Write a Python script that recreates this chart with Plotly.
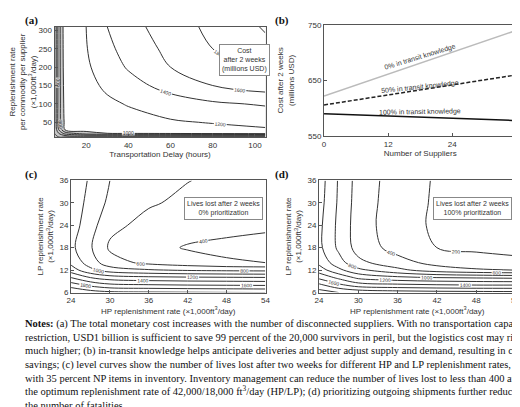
import plotly.graph_objects as go

# ---- data ----
# (a) cost after 2 weeks (millions USD)
delay_hours = [5, 7, 10, 20, 30, 40, 60, 80, 105]
repl_rate = [10, 20, 30, 50, 100, 150, 200, 250, 310]
cost_grid = [
    [200, 200, 200, 200, 200, 200, 200, 200, 200],
    [200, 400, 700, 950, 1000, 1020, 1040, 1060, 1080],
    [200, 600, 1020, 1050, 1080, 1100, 1120, 1150, 1180],
    [200, 700, 1050, 1100, 1120, 1140, 1180, 1210, 1250],
    [200, 700, 1080, 1120, 1170, 1210, 1300, 1370, 1420],
    [200, 700, 1100, 1150, 1230, 1320, 1480, 1600, 1700],
    [200, 700, 1120, 1170, 1300, 1420, 1600, 1720, 1850],
    [200, 700, 1130, 1190, 1350, 1480, 1650, 1800, 1950],
    [200, 700, 1140, 1200, 1400, 1530, 1700, 1850, 2020],
]

# (b) cost vs number of suppliers
suppliers = [0, 12, 24, 36]
cost_0pct = [622, 661, 700, 740]
cost_50pct = [606, 624, 642, 660]
cost_100pct = [590, 586, 582, 578]

# (c), (d) lives lost
hp_rate = [24, 27, 30, 36, 42, 48, 54]
lp_rate = [6, 8, 10, 12, 14, 18, 24, 30, 36]
lives_0pct = [
    [2200, 2100, 2050, 2030, 2020, 2010, 2000],
    [1900, 1750, 1650, 1620, 1600, 1590, 1580],
    [1600, 1400, 1300, 1250, 1230, 1220, 1210],
    [1300, 1050, 900, 820, 780, 760, 750],
    [1150, 900, 680, 550, 480, 420, 400],
    [1050, 820, 570, 460, 385, 360, 340],
    [1100, 880, 650, 540, 480, 450, 430],
    [1150, 920, 760, 620, 560, 520, 500],
    [1200, 960, 800, 680, 605, 560, 530],
]
lives_100pct = [
    [2100, 2000, 1950, 1900, 1880, 1870, 1860],
    [1850, 1650, 1500, 1450, 1420, 1400, 1400],
    [1550, 1350, 1150, 1050, 1000, 980, 960],
    [1300, 1050, 850, 650, 500, 430, 400],
    [1150, 880, 650, 480, 330, 260, 230],
    [1050, 760, 520, 320, 200, 175, 165],
    [1050, 750, 500, 280, 170, 140, 130],
    [1080, 770, 510, 290, 175, 145, 135],
    [1100, 780, 520, 300, 180, 150, 140],
]

SANS = "Liberation Sans"
SERIF = "Liberation Serif"
tick_font = dict(family=SANS, size=8, color="#333")
title_font = dict(family=SANS, size=8, color="#333")
white_scale = [[0, "white"], [1, "white"]]

fig = go.Figure()

fig.add_trace(go.Contour(
    x=delay_hours, y=repl_rate, z=cost_grid, xaxis="x", yaxis="y",
    contours=dict(start=200, end=2000, size=200, coloring="fill", showlabels=True,
                  labelfont=dict(family=SANS, size=5, color="#333")),
    colorscale=[[0, "#c8c8c8"], [0.44, "#c8c8c8"], [0.45, "white"], [1, "white"]],
    zmin=200, zmax=2000, showscale=False, line=dict(color="#333", width=1),
    hoverinfo="skip"))

for vals, name, dash, col in [(cost_0pct, "0% in transit knowledge", "solid", "#bbb"),
                              (cost_50pct, "50% in transit knowledge", "4px,2px", "#222"),
                              (cost_100pct, "100% in transit knowledge", "solid", "#111")]:
    fig.add_trace(go.Scatter(x=suppliers, y=vals, mode="lines", name=name, xaxis="x2", yaxis="y2",
                             line=dict(color=col, dash=dash, width=1.5), showlegend=False))

for z, ax, start in [(lives_0pct, "3", 400), (lives_100pct, "4", 200)]:
    fig.add_trace(go.Contour(
        x=hp_rate, y=lp_rate, z=z, xaxis="x" + ax, yaxis="y" + ax,
        contours=dict(start=start, end=2000, size=200, coloring="fill", showlabels=True,
                      labelfont=dict(family=SANS, size=5, color="#333")),
        colorscale=white_scale, showscale=False, line=dict(color="#333", width=1),
        hoverinfo="skip"))

def axis(domain, anchor, rng, tickvals, title=None, standoff=None):
    d = dict(domain=domain, anchor=anchor, range=rng, tickvals=tickvals, tickfont=tick_font,
             showgrid=False, zeroline=False, showline=True, mirror=True, linecolor="#555",
             linewidth=1, ticks="inside", ticklen=3, tickcolor="#555")
    if title:
        d["title"] = dict(text=title, font=title_font, standoff=standoff if standoff is not None else 4)
    return d

hp_title = "HP replenishment rate (×1,000ft<sup>3</sup>/day)"
lp_title = "LP replenishment rate<br>(×1,000ft<sup>3</sup>/day)"

fig.update_layout(
    width=520, height=407, margin=dict(l=0, r=0, t=0, b=0),
    paper_bgcolor="white", plot_bgcolor="white", showlegend=False,
    xaxis=axis([0.063, 0.485], "y", [5, 105.01], [20, 40, 60, 80, 100], "Transportation Delay (hours)", 2),
    yaxis=axis([0.686, 0.963], "x", [10, 310], [50, 100, 150, 200, 250, 300],
               "Replenishment rate<br>per commodity per supplier<br>(×1,000ft<sup>3</sup>/day)"),
    xaxis2=axis([0.602, 0.987], "y2", [-0.01, 36.01], [0, 12, 24, 36], "Number of Suppliers", 2),
    yaxis2=axis([0.688, 0.968], "x2", [549.9, 750.1], [550, 650, 750],
                "Cost after 2 weeks<br>(millions USD)", 12),
    xaxis3=axis([0.096, 0.485], "y3", [23.99, 54.01], [24, 30, 36, 42, 48, 54], hp_title, 0),
    yaxis3=axis([0.295, 0.577], "x3", [5.99, 36.01], [6, 12, 18, 24, 30, 36], lp_title),
    xaxis4=axis([0.592, 0.985], "y4", [23.99, 54.01], [24, 30, 36, 42, 48, 54], hp_title, 0),
    yaxis4=axis([0.295, 0.577], "x4", [5.99, 36.01], [6, 12, 18, 24, 30, 36], lp_title),
)

ann = []
for txt, x, y in [("(a)", 0.0, 1.0), ("(b)", 0.5, 1.0), ("(c)", 0.0, 0.612), ("(d)", 0.5, 0.612)]:
    ann.append(dict(text="<b>" + txt + "</b>", x=x, y=y, xref="paper", yref="paper",
                    xanchor="left", yanchor="top", showarrow=False,
                    font=dict(family=SERIF, size=11, color="#111")))
box = dict(showarrow=False, bgcolor="white", bordercolor="#888", borderwidth=1, borderpad=2,
           font=dict(family=SANS, size=7, color="#333"))
ann.append(dict(text="Cost<br>after 2 weeks<br>(millions USD)", x=95, y=220, xref="x", yref="y", **box))
ann.append(dict(text="Lives lost after 2 weeks<br>0% prioritization", x=47.5, y=28.5, xref="x3", yref="y3", **box))
ann.append(dict(text="Lives lost after 2 weeks<br>100% prioritization", x=47.5, y=28.5, xref="x4", yref="y4", **box))
lab = dict(showarrow=False, font=dict(family=SANS, size=7, color="#333"), xref="x2", yref="y2")
ann.append(dict(text="0% in transit knowledge", x=18, y=693, textangle=-17, **lab))
ann.append(dict(text="50% in transit knowledge", x=18, y=639, textangle=-6, **lab))
ann.append(dict(text="100% in transit knowledge", x=18, y=593, textangle=-1, **lab))

notes = ("<b>Notes:</b> (a) The total monetary cost increases with the number of disconnected suppliers. With no transportation capacity<br>"
         "restriction, USD1 billion is sufficient to save 99 percent of the 20,000 survivors in peril, but the logistics cost may rise<br>"
         "much higher; (b) in-transit knowledge helps anticipate deliveries and better adjust supply and demand, resulting in cost<br>"
         "savings; (c) level curves show the number of lives lost after two weeks for different HP and LP replenishment rates,<br>"
         "with 35 percent NP items in inventory. Inventory management can reduce the number of lives lost to less than 400 at<br>"
         "the optimum replenishment rate of 42,000/18,000 ft<sup>3</sup>/day (HP/LP); (d) prioritizing outgoing shipments further reduces<br>"
         "the number of fatalities")
ann.append(dict(text=notes, x=0.0, y=0.235, xref="paper", yref="paper", xanchor="left", yanchor="top",
                align="left", showarrow=False, font=dict(family=SERIF, size=10.5, color="#111")))
fig.update_layout(annotations=ann)

fig.write_html("out.html")
